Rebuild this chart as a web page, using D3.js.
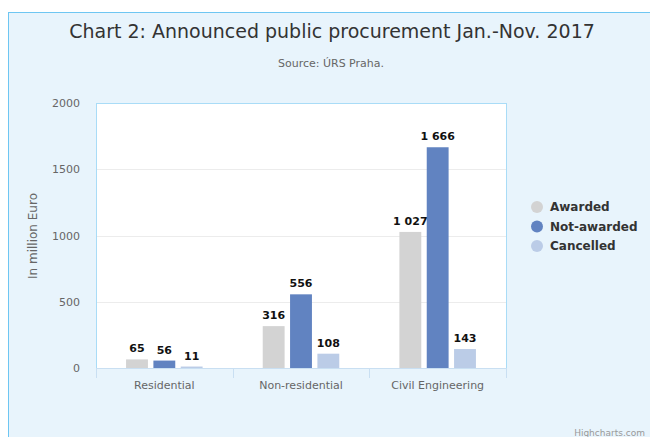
<!DOCTYPE html>
<html>
<head>
<meta charset="utf-8">
<script src="https://cdn.jsdelivr.net/npm/d3@7"></script>
<style>
  body { margin: 0; background: #fff; }
  svg { display: block; font-family: "DejaVu Sans", sans-serif; }
</style>
</head>
<body>
<svg id="chart" width="650" height="437"></svg>
<script>
const categories = ['Residential', 'Non-residential', 'Civil Engineering'];
const seriesNames = ['Awarded', 'Not-awarded', 'Cancelled'];
const awarded = [65, 316, 1027];
const notAwarded = [56, 556, 1666];
const cancelled = [11, 108, 143];
const yTicks = [0, 500, 1000, 1500, 2000];
const colors = ['#d3d3d3', '#6183c1', '#bbcce7'];

const seriesValues = [awarded, notAwarded, cancelled];
const svg = d3.select('#chart');
const W = 650, H = 437;

// outer frame
svg.append('rect')
  .attr('x', 8.5).attr('y', 12.5)
  .attr('width', W).attr('height', H)
  .attr('fill', '#e8f4fc')
  .attr('stroke', '#6ec6f2');

const plot = {left: 96, top: 103, right: 506, bottom: 368};

svg.append('text')
  .attr('x', 332).attr('y', 38)
  .attr('text-anchor', 'middle')
  .attr('font-size', 19)
  .attr('fill', '#333')
  .text('Chart 2: Announced public procurement Jan.-Nov. 2017');

svg.append('text')
  .attr('x', 331).attr('y', 67)
  .attr('text-anchor', 'middle')
  .attr('font-size', 11)
  .attr('fill', '#666')
  .text('Source: ÚRS Praha.');

svg.append('rect')
  .attr('x', plot.left + 0.5).attr('y', plot.top + 0.5)
  .attr('width', plot.right - plot.left).attr('height', plot.bottom - plot.top)
  .attr('fill', '#fff')
  .attr('stroke', '#a9dcf7');

const x0 = d3.scaleBand()
  .domain(categories)
  .range([plot.left, plot.right])
  .paddingInner(0).paddingOuter(0);

const x1 = d3.scaleBand()
  .domain(seriesNames)
  .range([0, x0.bandwidth() * 0.6])
  .paddingInner(0.2).paddingOuter(0.1);

const y = d3.scaleLinear()
  .domain([0, 2000])
  .range([plot.bottom, plot.top]);

// gridlines
svg.append('g')
  .selectAll('line')
  .data(yTicks.filter(t => t > 0 && t < 2000))
  .join('line')
  .attr('x1', plot.left + 1).attr('x2', plot.right)
  .attr('y1', d => Math.round(y(d)) + 0.5)
  .attr('y2', d => Math.round(y(d)) + 0.5)
  .attr('stroke', '#ececec');

// y axis labels
const yAxis = svg.append('g')
  .attr('transform', `translate(${plot.left},0)`)
  .call(d3.axisLeft(y).tickValues(yTicks).tickSize(0).tickPadding(16).tickFormat(d3.format('d')));
yAxis.select('.domain').remove();
yAxis.selectAll('text')
  .attr('font-size', 11)
  .attr('fill', '#666')
  .attr('font-family', '"DejaVu Sans", sans-serif');

svg.append('text')
  .attr('transform', `translate(37,236) rotate(-90)`)
  .attr('text-anchor', 'middle')
  .attr('font-size', 12)
  .attr('fill', '#666')
  .text('In million Euro');

// bars
const groups = svg.append('g')
  .selectAll('g')
  .data(categories)
  .join('g')
  .attr('transform', c => `translate(${x0(c) + x0.bandwidth() * 0.2},0)`);

const fmt = v => d3.format(',')(v).replace(/,/g, ' ');

groups.selectAll('rect')
  .data((c, i) => seriesNames.map((s, j) => ({s, j, v: seriesValues[j][i]})))
  .join('rect')
  .attr('x', d => x1(d.s))
  .attr('y', d => y(d.v))
  .attr('width', x1.bandwidth())
  .attr('height', d => plot.bottom - y(d.v))
  .attr('fill', d => colors[d.j]);

groups.selectAll('text')
  .data((c, i) => seriesNames.map((s, j) => ({s, j, v: seriesValues[j][i]})))
  .join('text')
  .attr('x', d => x1(d.s) + x1.bandwidth() / 2)
  .attr('y', d => y(d.v) - 7)
  .attr('text-anchor', 'middle')
  .attr('font-size', 11)
  .attr('font-weight', 'bold')
  .attr('fill', '#111')
  .text(d => fmt(d.v));

// x axis
svg.append('line')
  .attr('x1', plot.left).attr('x2', plot.right + 1)
  .attr('y1', plot.bottom + 0.5).attr('y2', plot.bottom + 0.5)
  .attr('stroke', '#c9dff2');

svg.append('g')
  .selectAll('line')
  .data(categories.map(c => x0(c)).concat([plot.right]))
  .join('line')
  .attr('x1', d => Math.round(d) + 0.5).attr('x2', d => Math.round(d) + 0.5)
  .attr('y1', plot.bottom).attr('y2', plot.bottom + 10)
  .attr('stroke', '#c9dff2');

svg.append('g')
  .selectAll('text')
  .data(categories)
  .join('text')
  .attr('x', c => x0(c) + x0.bandwidth() / 2)
  .attr('y', 389)
  .attr('text-anchor', 'middle')
  .attr('font-size', 11)
  .attr('fill', '#666')
  .text(c => c);

// legend
const legend = svg.append('g')
  .selectAll('g')
  .data(seriesNames)
  .join('g')
  .attr('transform', (d, i) => `translate(537,${207 + i * 19.5})`);

legend.append('circle')
  .attr('r', 6)
  .attr('fill', (d, i) => colors[i]);

legend.append('text')
  .attr('x', 13).attr('y', 4)
  .attr('font-size', 12)
  .attr('font-weight', 'bold')
  .attr('fill', '#333')
  .text(d => d);

svg.append('text')
  .attr('x', 645).attr('y', 436)
  .attr('text-anchor', 'end')
  .attr('font-size', 9)
  .attr('fill', '#999')
  .text('Highcharts.com');
</script>
</body>
</html>
